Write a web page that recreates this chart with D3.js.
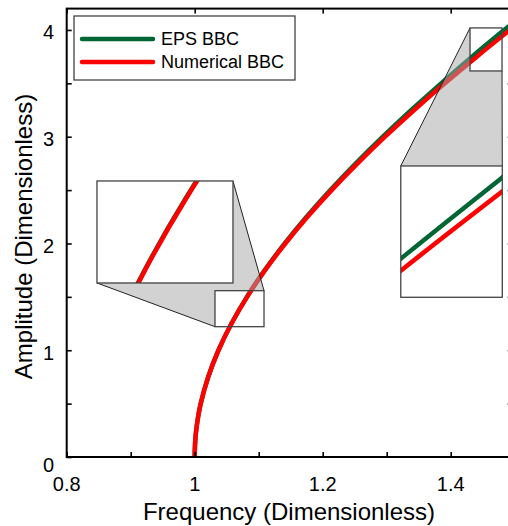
<!DOCTYPE html>
<html>
<head>
<meta charset="utf-8">
<script src="https://cdn.jsdelivr.net/npm/d3@7/dist/d3.min.js"></script>
<style>
  html, body { margin: 0; padding: 0; background: #fff; }
  svg { display: block; }
  text { font-family: "Liberation Sans", Arial, Helvetica, sans-serif; fill: #000; }
</style>
</head>
<body>
<svg id="chart" width="508" height="526"></svg>
<script>
// ---------------- data ----------------
const amplitude = [0, 0.1, 0.2, 0.3, 0.4, 0.5, 0.75, 1.0, 1.25, 1.5, 1.75, 2.0, 2.25, 2.5, 2.75, 3.0, 3.25, 3.5, 3.75, 4.0, 4.25];
const freqNumerical = [1.0000, 1.0004, 1.0015, 1.0034, 1.0060, 1.0094, 1.0211, 1.0372, 1.0576, 1.0819, 1.1100, 1.1416, 1.1763, 1.2140, 1.2545, 1.2975, 1.3430, 1.3908, 1.4408, 1.4925, 1.5450];
const freqEPS       = [1.0000, 1.0004, 1.0015, 1.0034, 1.0060, 1.0094, 1.0211, 1.0371, 1.0574, 1.0816, 1.1095, 1.1406, 1.1748, 1.2120, 1.2518, 1.2940, 1.3385, 1.3850, 1.4333, 1.4835, 1.5345];
const seriesNames = ["EPS BBC", "Numerical BBC"];

const xTickValues = [0.8, 0.9, 1.0, 1.1, 1.2, 1.3, 1.4, 1.5];
const xTickLabelValues = [0.8, 1.0, 1.2, 1.4];
const xTickLabels = ["0.8", "1", "1.2", "1.4"];
const xTopTickValues = [0.8, 1.0, 1.2, 1.4];
const yTickValues = [0, 0.5, 1, 1.5, 2, 2.5, 3, 3.5, 4];
const yTickLabelValues = [0, 1, 2, 3, 4];
const yTickLabels = ["0", "1", "2", "3", "4"];

// zoom regions (data units) and their magnified boxes (data units)
const zoomLeft  = { x0: 1.0317, x1: 1.1083, y0: 1.2206, y1: 1.5578 };
const boxLeft   = { x0: 0.8473, x1: 1.0598, y0: 1.630,  y1: 2.5855 };
const zoomRight = { x0: 1.4302, x1: 1.4802, y0: 3.616,  y1: 4.019 };
const boxRight  = { x0: 1.3220, x1: 1.4806, y0: 1.496,  y1: 2.726 };

// ---------------- layout ----------------
const colors = { eps: "#006633", num: "#ff0000" };
const svg = d3.select("#chart");
const x = d3.scaleLinear().domain([0.8, 1.5]).range([66.7, 514.7]);
const y = d3.scaleLinear().domain([0, 4.2]).range([457, 8.6]);

const defs = svg.append("defs");
defs.append("clipPath").attr("id", "plotClip").append("rect")
  .attr("x", x(0.8)).attr("y", y(4.2)).attr("width", x(1.5) - x(0.8)).attr("height", y(0) - y(4.2));

const epsData = amplitude.map((a, i) => ({ f: freqEPS[i], a }));
const numData = amplitude.map((a, i) => ({ f: freqNumerical[i], a }));

function lineGen(sx, sy) {
  return d3.line().x(d => sx(d.f)).y(d => sy(d.a)).curve(d3.curveMonotoneY);
}

// main curves
const gMain = svg.append("g").attr("clip-path", "url(#plotClip)");
gMain.append("path").datum(epsData).attr("d", lineGen(x, y))
  .attr("fill", "none").attr("stroke", colors.eps).attr("stroke-width", 4.5);
gMain.append("path").datum(numData).attr("d", lineGen(x, y))
  .attr("fill", "none").attr("stroke", colors.num).attr("stroke-width", 4.5);

// gray connector polygons
function px(b) { return { l: x(b.x0), r: x(b.x1), t: y(b.y1), b: y(b.y0) }; }
const zL = px(zoomLeft), bL = px(boxLeft), zR = px(zoomRight), bR = px(boxRight);

const polyLeft = [[bL.l, bL.b], [zL.l, zL.b], [zL.l, zL.t], [zL.r, zL.t], [bL.r, bL.t], [bL.r, bL.b]];
const polyRight = [[bR.l, bR.t], [zR.l, zR.t], [zR.l, zR.b], [zR.r, zR.b], [bR.r, bR.t]];
[polyLeft, polyRight].forEach(p => {
  svg.append("polygon").attr("points", p.map(d => d.join(",")).join(" "))
    .attr("fill", "#a6a6a6").attr("fill-opacity", 0.5).attr("stroke", "none");
});
// connector lines
const connectors = [
  [[bL.l, bL.b], [zL.l, zL.b]],
  [[bL.r, bL.t], [zL.r, zL.t]],
  [[bR.l, bR.t], [zR.l, zR.t]],
  [[zR.r, zR.b], [bR.r, bR.t]]
];
connectors.forEach(c => {
  svg.append("line").attr("x1", c[0][0]).attr("y1", c[0][1]).attr("x2", c[1][0]).attr("y2", c[1][1])
    .attr("stroke", "#222").attr("stroke-width", 1);
});

// zoom source boxes
[zL, zR].forEach(r => {
  svg.append("rect").attr("x", r.l).attr("y", r.t).attr("width", r.r - r.l).attr("height", r.b - r.t)
    .attr("fill", "none").attr("stroke", "#444").attr("stroke-width", 1.3);
});

// magnified boxes
function drawInset(zoom, box, id) {
  const r = px(box);
  const sx = d3.scaleLinear().domain([zoom.x0, zoom.x1]).range([r.l, r.r]);
  const sy = d3.scaleLinear().domain([zoom.y0, zoom.y1]).range([r.b, r.t]);
  defs.append("clipPath").attr("id", id).append("rect")
    .attr("x", r.l).attr("y", r.t).attr("width", r.r - r.l).attr("height", r.b - r.t);
  svg.append("rect").attr("x", r.l).attr("y", r.t).attr("width", r.r - r.l).attr("height", r.b - r.t)
    .attr("fill", "#fff").attr("stroke", "none");
  const g = svg.append("g").attr("clip-path", `url(#${id})`);
  g.append("path").datum(epsData).attr("d", lineGen(sx, sy))
    .attr("fill", "none").attr("stroke", colors.eps).attr("stroke-width", 4.5);
  g.append("path").datum(numData).attr("d", lineGen(sx, sy))
    .attr("fill", "none").attr("stroke", colors.num).attr("stroke-width", 4.5);
  svg.append("rect").attr("x", r.l).attr("y", r.t).attr("width", r.r - r.l).attr("height", r.b - r.t)
    .attr("fill", "none").attr("stroke", "#444").attr("stroke-width", 1.3);
}
drawInset(zoomLeft, boxLeft, "clipL");
drawInset(zoomRight, boxRight, "clipR");

// ---------------- axes ----------------
const axB = svg.append("g").attr("transform", `translate(0,${y(0)})`)
  .call(d3.axisBottom(x).tickValues(xTickValues).tickSize(-5).tickFormat(""));
const axT = svg.append("g").attr("transform", `translate(0,${y(4.2)})`)
  .call(d3.axisTop(x).tickValues(xTopTickValues).tickSize(-5).tickFormat(""));
const axL = svg.append("g").attr("transform", `translate(${x(0.8)},0)`)
  .call(d3.axisLeft(y).tickValues(yTickValues).tickSize(-5).tickFormat(""));
const axR = svg.append("g").attr("transform", `translate(${x(1.5)},0)`)
  .call(d3.axisRight(y).tickValues(yTickValues).tickSize(-7).tickFormat(""));
[axB, axT, axL, axR].forEach(a => {
  a.select(".domain").remove();
  a.selectAll(".tick line").attr("stroke", "#000").attr("stroke-width", 1.6);
});

// frame
svg.append("rect").attr("x", x(0.8)).attr("y", y(4.2))
  .attr("width", x(1.5) - x(0.8)).attr("height", y(0) - y(4.2))
  .attr("fill", "none").attr("stroke", "#000").attr("stroke-width", 2);

// tick labels
svg.append("g").selectAll("text").data(xTickLabelValues).join("text")
  .attr("x", d => x(d)).attr("y", 491)
  .attr("text-anchor", "middle").attr("font-size", 20)
  .text((d, i) => xTickLabels[i]);
svg.append("g").selectAll("text").data(yTickLabelValues).join("text")
  .attr("x", 54).attr("y", d => y(d) + (d === 0 ? 14.7 : 9.3))
  .attr("text-anchor", "end").attr("font-size", 20)
  .text((d, i) => yTickLabels[i]);

// axis titles
svg.append("text").attr("x", 289).attr("y", 520).attr("text-anchor", "middle")
  .attr("font-size", 24).text("Frequency (Dimensionless)");
svg.append("text").attr("transform", "translate(32,236.5) rotate(-90)")
  .attr("text-anchor", "middle").attr("font-size", 24).text("Amplitude (Dimensionless)");

// ---------------- legend ----------------
const lg = svg.append("g");
lg.append("rect").attr("x", 74).attr("y", 16).attr("width", 221).attr("height", 64)
  .attr("fill", "#fff").attr("stroke", "#333").attr("stroke-width", 1.2);
const legendColors = [colors.eps, colors.num];
seriesNames.forEach((name, i) => {
  const yy = 39 + i * 23;
  lg.append("line").attr("x1", 82).attr("x2", 153).attr("y1", yy).attr("y2", yy)
    .attr("stroke", legendColors[i]).attr("stroke-width", 4.5).attr("stroke-linecap", "round");
  lg.append("text").attr("x", 161).attr("y", yy + 6).attr("font-size", 18).text(name);
});
</script>
</body>
</html>
